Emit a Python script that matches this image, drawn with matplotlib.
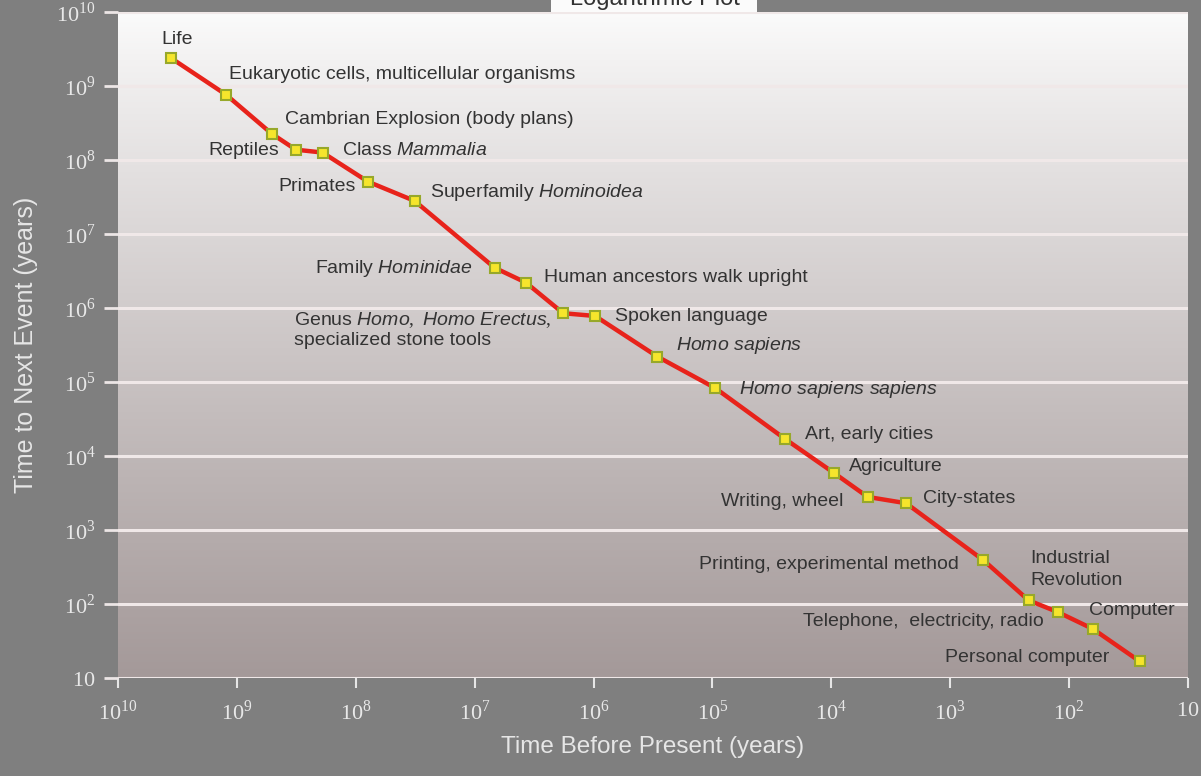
import numpy as np
import matplotlib
matplotlib.use("Agg")
import matplotlib.pyplot as plt
from matplotlib.patches import Rectangle

plt.rcParams['font.family'] = ['Liberation Sans', 'DejaVu Sans']
plt.rcParams['mathtext.fontset'] = 'custom'
plt.rcParams['mathtext.rm'] = 'Liberation Serif'
plt.rcParams['mathtext.it'] = 'Liberation Sans:italic'
plt.rcParams['mathtext.sf'] = 'Liberation Sans'

# ---- data ----
events = [
    "Life",
    "Eukaryotic cells, multicellular organisms",
    "Cambrian Explosion (body plans)",
    "Reptiles",
    "Class $\\mathit{Mammalia}$",
    "Primates",
    "Superfamily $\\mathit{Hominoidea}$",
    "Family $\\mathit{Hominidae}$",
    "Human ancestors walk upright",
    "Genus $\\mathit{Homo,\\ Homo\\ Erectus,}$",
    "Spoken language",
    "$\\mathit{Homo\\ sapiens}$",
    "$\\mathit{Homo\\ sapiens\\ sapiens}$",
    "Art, early cities",
    "Agriculture",
    "Writing, wheel",
    "City-states",
    "Printing, experimental method",
    "Industrial\nRevolution",
    "Telephone,  electricity, radio",
    "Computer",
    "Personal computer",
]
time_before_present = [3.6e9, 1.23e9, 5.1e8, 3.2e8, 1.9e8, 7.9e7, 3.2e7, 6.8e6, 3.7e6,
                       1.8e6, 9.7e5, 2.9e5, 9.5e4, 2.45e4, 9.5e3, 4.95e3, 2.35e3,
                       525, 219, 125, 63, 25.5]
time_to_next = [2.4e9, 7.6e8, 2.27e8, 1.38e8, 1.26e8, 5.1e7, 2.8e7, 3.5e6, 2.2e6,
                8.5e5, 7.8e5, 2.2e5, 8.3e4, 1.7e4, 5.9e3, 2.8e3, 2.3e3,
                390, 112, 78, 46, 16.8]
extra_line = "specialized stone tools"
x_ticks = [1e10, 1e9, 1e8, 1e7, 1e6, 1e5, 1e4, 1e3, 1e2, 1e1]
tick_labels = ["$10^{10}$", "$10^{9}$", "$10^{8}$", "$10^{7}$", "$10^{6}$",
               "$10^{5}$", "$10^{4}$", "$10^{3}$", "$10^{2}$", "$10$"]

# label placement (pixel offsets from marker, horizontal alignment)
label_place = [(-9, 18, 'left'), (3, 20, 'left'), (13, 14, 'left'), (-17, -1, 'right'),
               (19, 2, 'left'), (-12, -5, 'right'), (15, 8, 'left'), (-22, -1, 'right'),
               (18, 5, 'left'), (-269, -7, 'left'), (20, -1, 'left'), (19, 11, 'left'),
               (24, -2, 'left'), (20, 4, 'left'), (15, 6, 'left'), (-24, -5, 'right'),
               (17, 5, 'left'), (-25, -4, 'right'), (2, 31, 'left'), (-14, -10, 'right'),
               (-4, 18, 'left'), (-30, 4, 'right')]

W, H = 1201, 776
fig = plt.figure(figsize=(W / 100, H / 100), dpi=100)
fig.patch.set_facecolor('#7f7f7f')

left, right, top, bottom = 118, 1188, 12, 678
ax = fig.add_axes([left / W, 1 - bottom / H, (right - left) / W, (bottom - top) / H])
ax.set_facecolor('#a59a9a')

# gradient background
n = 256
t = np.linspace(0, 1, n) ** 0.9
topc = np.array([251, 251, 251]) / 255
botc = np.array([164, 153, 153]) / 255
grad = (topc[None, :] * (1 - t[:, None]) + botc[None, :] * t[:, None])[:, None, :]
ax.imshow(grad, extent=[0, 1, 0, 1], transform=ax.transAxes, aspect='auto',
          zorder=0, interpolation='bicubic')

ax.set_xscale('log')
ax.set_yscale('log')
ax.set_xlim(1e10, 10)
ax.set_ylim(10, 1e10)

for s in ax.spines.values():
    s.set_visible(False)

ax.set_xticks(x_ticks)
ax.set_xticklabels(tick_labels)
ax.set_yticks(x_ticks)
ax.set_yticklabels(tick_labels)
ax.minorticks_off()
ax.tick_params(axis='x', direction='out', length=7, width=1.5, color='#e6e6e6',
               labelcolor='#e8e8e8', labelsize=16, pad=9)
ax.tick_params(axis='y', direction='out', length=10, width=2, color='#ece6e6',
               labelcolor='#e8e8e8', labelsize=16, pad=6)
ax.yaxis.grid(True, color='#f0e8e8', lw=2.2, zorder=1)
ax.xaxis.grid(False)
ax.set_axisbelow(True)

ax.plot(time_before_present, time_to_next, color='#e8231b', lw=3.2, zorder=3,
        solid_joinstyle='round')
ax.plot(time_before_present, time_to_next, ls='none', marker='s', ms=7.5,
        mfc='#f6e52c', mec='#97a82a', mew=1.5, zorder=4)

fs = 14
for name, x, y, (dx, dy, ha) in zip(events, time_before_present, time_to_next, label_place):
    ax.annotate(name, (x, y), xytext=(dx, dy), textcoords='offset pixels',
                ha=ha, va='center', fontsize=fs, color='#333333', zorder=5,
                linespacing=1.35)
# second line of the Genus Homo label
gx, gy = time_before_present[9], time_to_next[9]
ax.annotate(extra_line, (gx, gy), xytext=(-269, -27), textcoords='offset pixels',
            ha='left', va='center', fontsize=fs, color='#333333', zorder=5)

ax.set_xlabel("Time Before Present (years)", fontsize=17.5, color='#e6e6e6', labelpad=8)
ax.set_ylabel("Time to Next Event (years)", fontsize=18, color='#e6e6e6', labelpad=13)

# top tab (cut off at the figure edge, as in the reference)
fig.patches.append(Rectangle((551 / W, 1 - 12 / H), 206 / W, 12 / H,
                             transform=fig.transFigure, facecolor='#fbfbfb',
                             edgecolor='none', zorder=5))
fig.text(655 / W, 1 - 5 / H, "Logarithmic Plot", ha='center', va='baseline',
         fontsize=17, color='#333333', zorder=6)

fig.savefig("out.png", dpi=100, facecolor=fig.get_facecolor())
